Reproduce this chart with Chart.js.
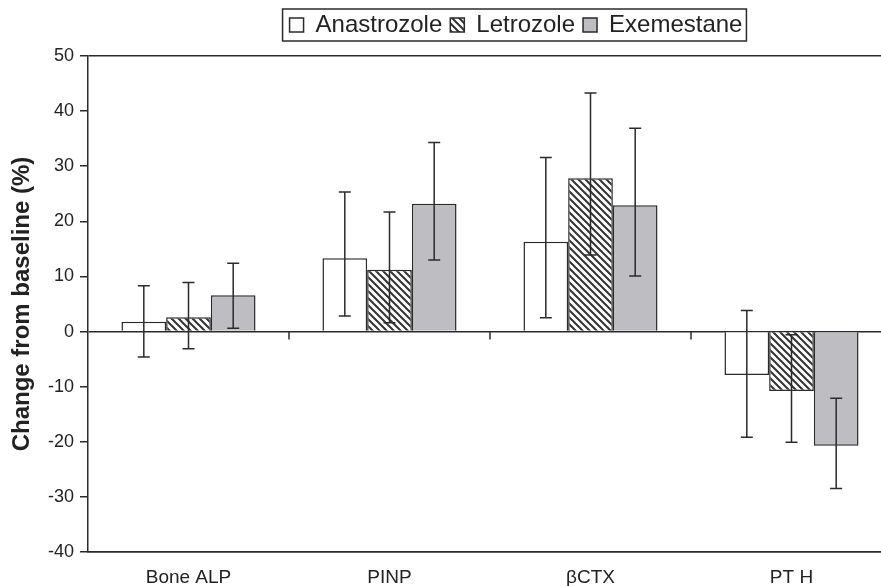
<!DOCTYPE html>
<html>
<head>
<meta charset="utf-8">
<script src="https://cdn.jsdelivr.net/npm/chart.js@4.4.0/dist/chart.umd.min.js"></script>
<style>
html, body { margin: 0; padding: 0; background: #fff; overflow: hidden; }
canvas { display: block; }
</style>
</head>
<body>
<canvas id="boneChart" width="892" height="586"></canvas>
<script>
// Categories and series (change from baseline, %)
const markers = ['Bone ALP', 'PINP', 'βCTX', 'PT H'];

const anastrozole = [1.8, 13.3, 16.3, -7.9];
const anastrozoleLow = [-4.6, 2.8, 2.5, -19.2];
const anastrozoleHigh = [8.3, 25.3, 31.6, 3.8];

const letrozole = [2.6, 11.2, 27.8, -10.8];
const letrozoleLow = [-3.1, 1.6, 13.9, -20.1];
const letrozoleHigh = [8.9, 21.7, 43.3, -0.6];

const exemestane = [6.6, 23.2, 22.9, -20.7];
const exemestaneLow = [0.6, 13.0, 10.1, -28.5];
const exemestaneHigh = [12.4, 34.3, 36.9, -12.1];

const yTicks = { min: -40, max: 50, step: 10 };

const FONT = '"Liberation Sans", Arial, Helvetica, sans-serif';
const INK = '#2b2b2b';

// Diagonal hatch for Letrozole
function makeHatch() {
    const size = 7;
    const c = document.createElement('canvas');
    c.width = size;
    c.height = size;
    const g = c.getContext('2d');
    g.fillStyle = '#fff';
    g.fillRect(0, 0, size, size);
    g.strokeStyle = '#333';
    g.lineWidth = 2;
    g.beginPath();
    g.moveTo(-1, -1); g.lineTo(size + 1, size + 1);
    g.moveTo(-1, size - 1); g.lineTo(1, size + 1);
    g.moveTo(size - 1, -1); g.lineTo(size + 1, 1);
    g.stroke();
    return g.createPattern(c, 'repeat');
}

// Whiskers drawn over the bars
const errorBars = {
    id: 'errorBars',
    afterDatasetsDraw(chart) {
        const { ctx, scales: { y } } = chart;
        ctx.save();
        ctx.strokeStyle = INK;
        ctx.lineWidth = 1.5;
        chart.data.datasets.forEach((ds, i) => {
            chart.getDatasetMeta(i).data.forEach((bar, j) => {
                const top = y.getPixelForValue(ds.errHigh[j]);
                const bottom = y.getPixelForValue(ds.errLow[j]);
                ctx.beginPath();
                ctx.moveTo(bar.x, top); ctx.lineTo(bar.x, bottom);
                ctx.moveTo(bar.x - 6, top); ctx.lineTo(bar.x + 6, top);
                ctx.moveTo(bar.x - 6, bottom); ctx.lineTo(bar.x + 6, bottom);
                ctx.stroke();
            });
        });
        ctx.restore();
    }
};

// Small ticks on the zero line between categories
const zeroTicks = {
    id: 'zeroTicks',
    afterDatasetsDraw(chart) {
        const { ctx, scales: { x, y } } = chart;
        const y0 = y.getPixelForValue(0);
        ctx.save();
        ctx.strokeStyle = INK;
        ctx.lineWidth = 1.5;
        for (let i = 0; i < markers.length - 1; i++) {
            const xb = (x.getPixelForValue(i) + x.getPixelForValue(i + 1)) / 2;
            ctx.beginPath();
            ctx.moveTo(xb, y0);
            ctx.lineTo(xb, y0 + 8);
            ctx.stroke();
        }
        ctx.restore();
    }
};

// Legend sits right of centre, a bit higher, and gets a frame
const legendFrame = {
    id: 'legendFrame',
    afterLayout(chart) {
        const lg = chart.legend;
        lg.left += 70;
        lg.right += 70;
        lg.top -= 9;
        lg.bottom -= 9;
    },
    afterDraw(chart) {
        const boxes = chart.legend.legendHitBoxes;
        if (!boxes || !boxes.length) return;
        const first = boxes[0];
        const last = boxes[boxes.length - 1];
        const ctx = chart.ctx;
        ctx.save();
        ctx.strokeStyle = INK;
        ctx.lineWidth = 1.5;
        ctx.strokeRect(first.left - 7, first.top - 4, last.left + last.width - first.left + 11, first.height + 8);
        ctx.restore();
    }
};

const ctx = document.getElementById('boneChart').getContext('2d');
const boneChart = new Chart(ctx, {
    type: 'bar',
    data: {
        labels: markers,
        datasets: [
            {
                label: 'Anastrozole',
                data: anastrozole,
                errLow: anastrozoleLow,
                errHigh: anastrozoleHigh,
                backgroundColor: '#ffffff',
                borderColor: INK,
                borderWidth: 1.5
            },
            {
                label: 'Letrozole',
                data: letrozole,
                errLow: letrozoleLow,
                errHigh: letrozoleHigh,
                backgroundColor: makeHatch(),
                borderColor: INK,
                borderWidth: 1.5
            },
            {
                label: 'Exemestane',
                data: exemestane,
                errLow: exemestaneLow,
                errHigh: exemestaneHigh,
                backgroundColor: '#bebec2',
                borderColor: INK,
                borderWidth: 1.5
            }
        ]
    },
    options: {
        responsive: false,
        animation: false,
        devicePixelRatio: 1,
        layout: { padding: { top: 14, left: 0, right: 0, bottom: 0 } },
        datasets: {
            bar: { categoryPercentage: 0.667, barPercentage: 1.0 }
        },
        plugins: {
            tooltip: { enabled: false },
            legend: {
                position: 'top',
                labels: {
                    boxWidth: 14,
                    boxHeight: 14,
                    padding: 8,
                    color: '#222',
                    font: { family: FONT, size: 24 }
                }
            }
        },
        scales: {
            x: {
                grid: { display: false, drawTicks: false },
                border: { display: true, color: INK, width: 1.5 },
                ticks: { color: '#222', padding: 14, font: { family: FONT, size: 19 } },
                afterFit(scale) { scale.height = 34; }
            },
            y: {
                min: yTicks.min,
                max: yTicks.max,
                grid: {
                    color: c => [yTicks.min, 0, yTicks.max].includes(c.tick.value) ? INK : 'rgba(0,0,0,0)',
                    lineWidth: 1.5,
                    tickColor: INK,
                    tickLength: 8
                },
                border: { display: true, color: INK, width: 1.5 },
                ticks: {
                    stepSize: yTicks.step,
                    color: '#222',
                    padding: 6,
                    font: { family: FONT, size: 18 }
                },
                title: {
                    display: true,
                    text: 'Change from baseline (%)',
                    color: '#222',
                    padding: { top: 8, bottom: 0 },
                    font: { family: FONT, size: 24, weight: 'bold' }
                },
                afterFit(scale) { scale.width = 88; }
            }
        }
    },
    plugins: [errorBars, zeroTicks, legendFrame]
});
</script>
</body>
</html>
